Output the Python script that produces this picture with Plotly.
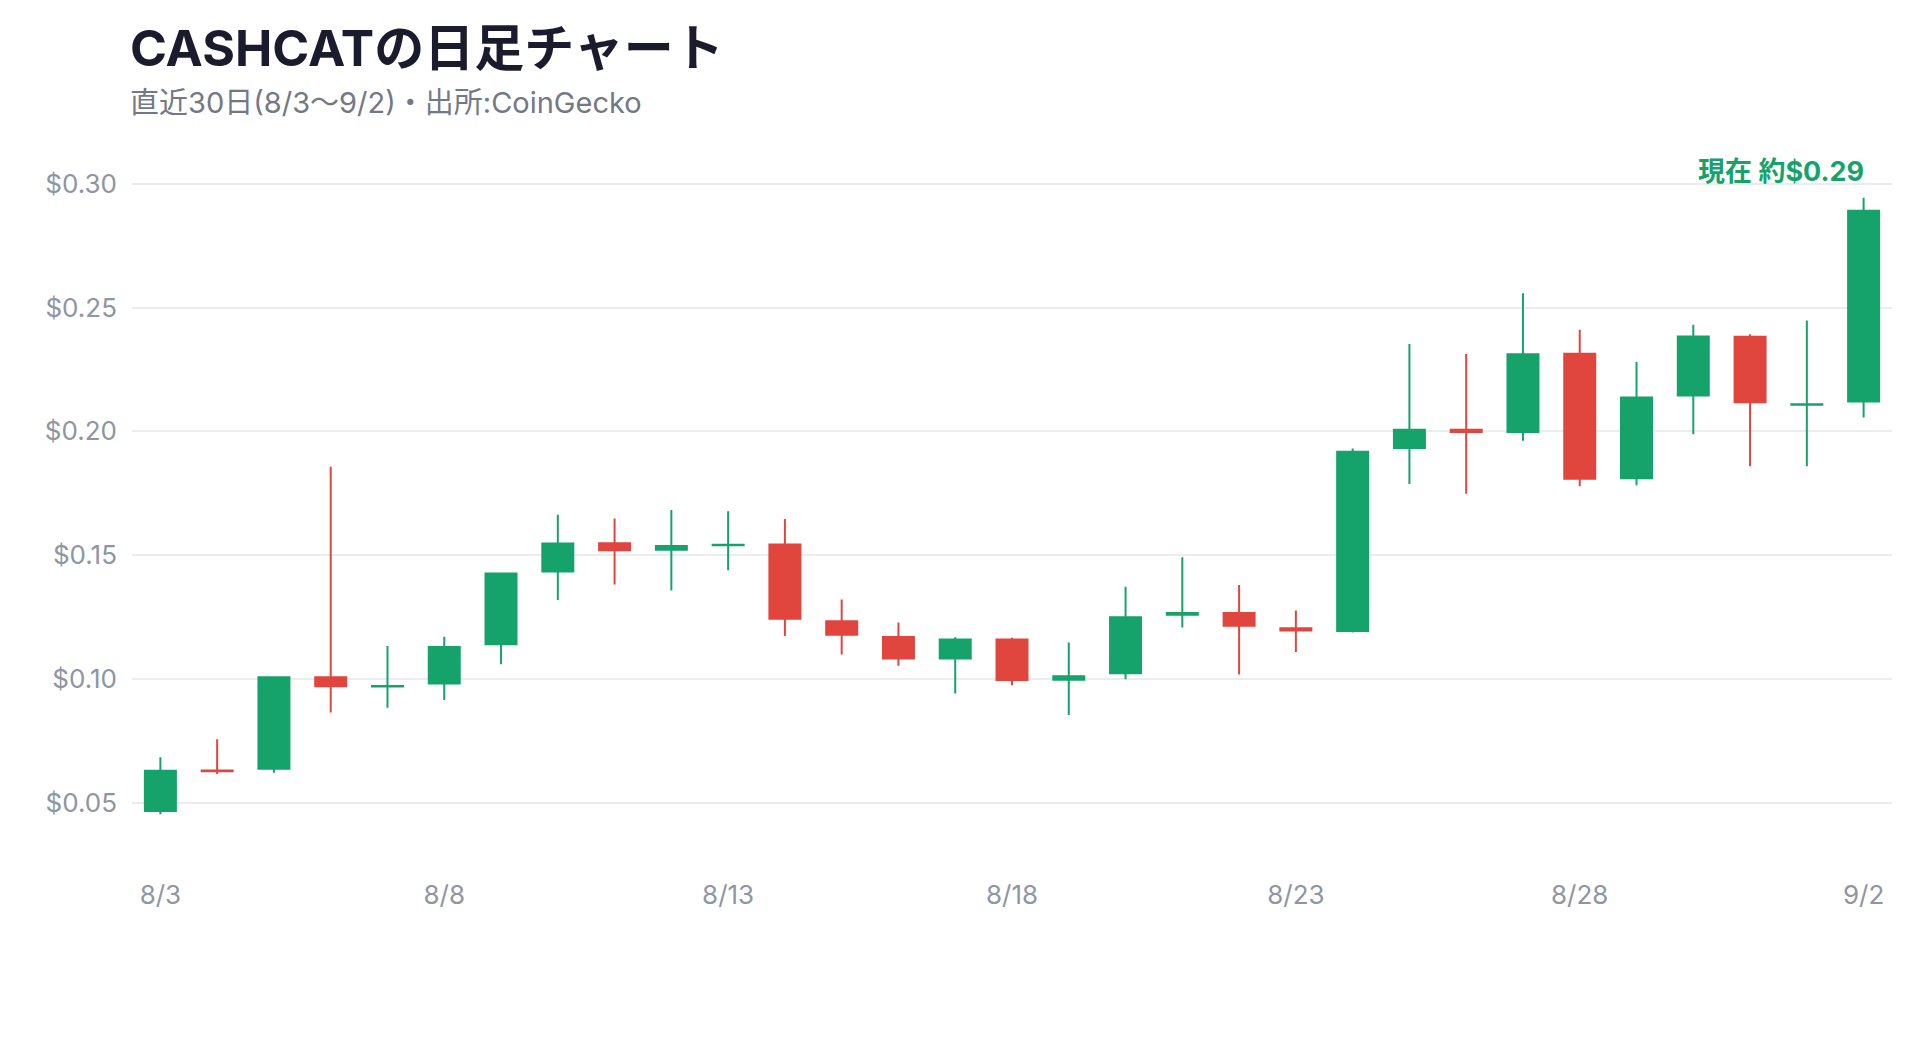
import plotly.graph_objects as go

dates = ["2025-08-03", "2025-08-04", "2025-08-05", "2025-08-06", "2025-08-07", "2025-08-08",
         "2025-08-09", "2025-08-10", "2025-08-11", "2025-08-12", "2025-08-13", "2025-08-14",
         "2025-08-15", "2025-08-16", "2025-08-17", "2025-08-18", "2025-08-19", "2025-08-20",
         "2025-08-21", "2025-08-22", "2025-08-23", "2025-08-24", "2025-08-25", "2025-08-26",
         "2025-08-27", "2025-08-28", "2025-08-29", "2025-08-30", "2025-08-31", "2025-09-01",
         "2025-09-02"]
open_ = [0.0466, 0.0630, 0.0637, 0.1007, 0.0969, 0.0981, 0.1140, 0.1434, 0.1548, 0.1522,
         0.1540, 0.1543, 0.1233, 0.1169, 0.1082, 0.1159, 0.0996, 0.1023, 0.1259, 0.1266,
         0.1205, 0.1193, 0.1933, 0.2006, 0.1997, 0.2313, 0.1810, 0.2145, 0.2382, 0.2107,
         0.2120]
high = [0.0683, 0.0756, 0.1010, 0.1857, 0.1133, 0.1170, 0.1430, 0.1663, 0.1648, 0.1682,
        0.1677, 0.1646, 0.1321, 0.1228, 0.1168, 0.1166, 0.1147, 0.1372, 0.1491, 0.1379,
        0.1276, 0.1931, 0.2353, 0.2312, 0.2558, 0.2410, 0.2280, 0.2430, 0.2392, 0.2448,
        0.2943]
low = [0.0453, 0.0616, 0.0621, 0.0864, 0.0883, 0.0915, 0.1059, 0.1319, 0.1381, 0.1357,
       0.1439, 0.1173, 0.1098, 0.1053, 0.0941, 0.0974, 0.0854, 0.0999, 0.1208, 0.1018,
       0.1109, 0.1187, 0.1787, 0.1748, 0.1962, 0.1778, 0.1782, 0.1988, 0.1859, 0.1859,
       0.2056]
close = [0.0629, 0.0627, 0.1007, 0.0970, 0.0971, 0.1129, 0.1426, 0.1547, 0.1520, 0.1537,
         0.1542, 0.1243, 0.1178, 0.1082, 0.1159, 0.0995, 0.1011, 0.1249, 0.1266, 0.1215,
         0.1195, 0.1917, 0.2006, 0.1997, 0.2311, 0.1808, 0.2136, 0.2383, 0.2117, 0.2109,
         0.2891]

tick_dates = ["2025-08-03", "2025-08-08", "2025-08-13", "2025-08-18", "2025-08-23",
              "2025-08-28", "2025-09-02"]
tick_labels = ["8/3", "8/8", "8/13", "8/18", "8/23", "8/28", "9/2"]
y_ticks = [0.05, 0.10, 0.15, 0.20, 0.25, 0.30]
y_labels = ["$0.05", "$0.10", "$0.15", "$0.20", "$0.25", "$0.30"]

title_text = "CASHCATの日足チャート"
subtitle_text = "直近30日(8/3〜9/2)・出所:CoinGecko"
current_label = "現在 約$0.29"

GREEN = "#15a36b"
RED = "#e0463e"
FONT = "Inter, 'Noto Sans CJK JP', sans-serif"

fig = go.Figure(go.Candlestick(
    x=dates, open=open_, high=high, low=low, close=close,
    increasing=dict(line=dict(color=GREEN, width=2), fillcolor=GREEN),
    decreasing=dict(line=dict(color=RED, width=2), fillcolor=RED),
    whiskerwidth=0,
    showlegend=False,
    hoverinfo="skip",
))

fig.add_annotation(
    x=dates[-1], y=high[-1], xref="x", yref="y",
    text="<b>" + current_label + "</b>", showarrow=False,
    xanchor="right", yanchor="bottom", yshift=8, xshift=2,
    font=dict(family=FONT, size=27, color=GREEN),
)
fig.add_annotation(
    x=0, y=1.147, xref="paper", yref="paper",
    text="<b>" + title_text + "</b>", showarrow=False,
    xanchor="left", yanchor="middle", xshift=-4,
    font=dict(family=FONT, size=50, color="#1b1b2e"),
)
fig.add_annotation(
    x=0, y=1.072, xref="paper", yref="paper",
    text=subtitle_text, showarrow=False,
    xanchor="left", yanchor="middle", xshift=-4,
    font=dict(family=FONT, size=29, color="#737885"),
)

fig.update_layout(
    width=1920, height=1040,
    margin=dict(l=124, r=36, t=146, b=176),
    paper_bgcolor="white", plot_bgcolor="white",
    boxgap=0.22,
    font=dict(family=FONT, color="#8e95a3"),
    xaxis=dict(
        type="date",
        range=["2025-08-02 12:00", "2025-09-02 12:00"],
        rangeslider=dict(visible=False),
        tickvals=tick_dates, ticktext=tick_labels,
        showgrid=False, zeroline=False, showline=False,
        ticks="", ticklabelstandoff=5,
        tickfont=dict(family=FONT, size=26, color="#8e95a3"),
    ),
    yaxis=dict(
        range=[0.022, 0.312],
        tickvals=y_ticks, ticktext=y_labels,
        showgrid=True, gridcolor="#ebecf0", gridwidth=2,
        zeroline=False, showline=False, ticks="",
        ticklabelstandoff=14,
        tickfont=dict(family=FONT, size=26, color="#8e95a3"),
    ),
)

fig.write_html("out.html")
